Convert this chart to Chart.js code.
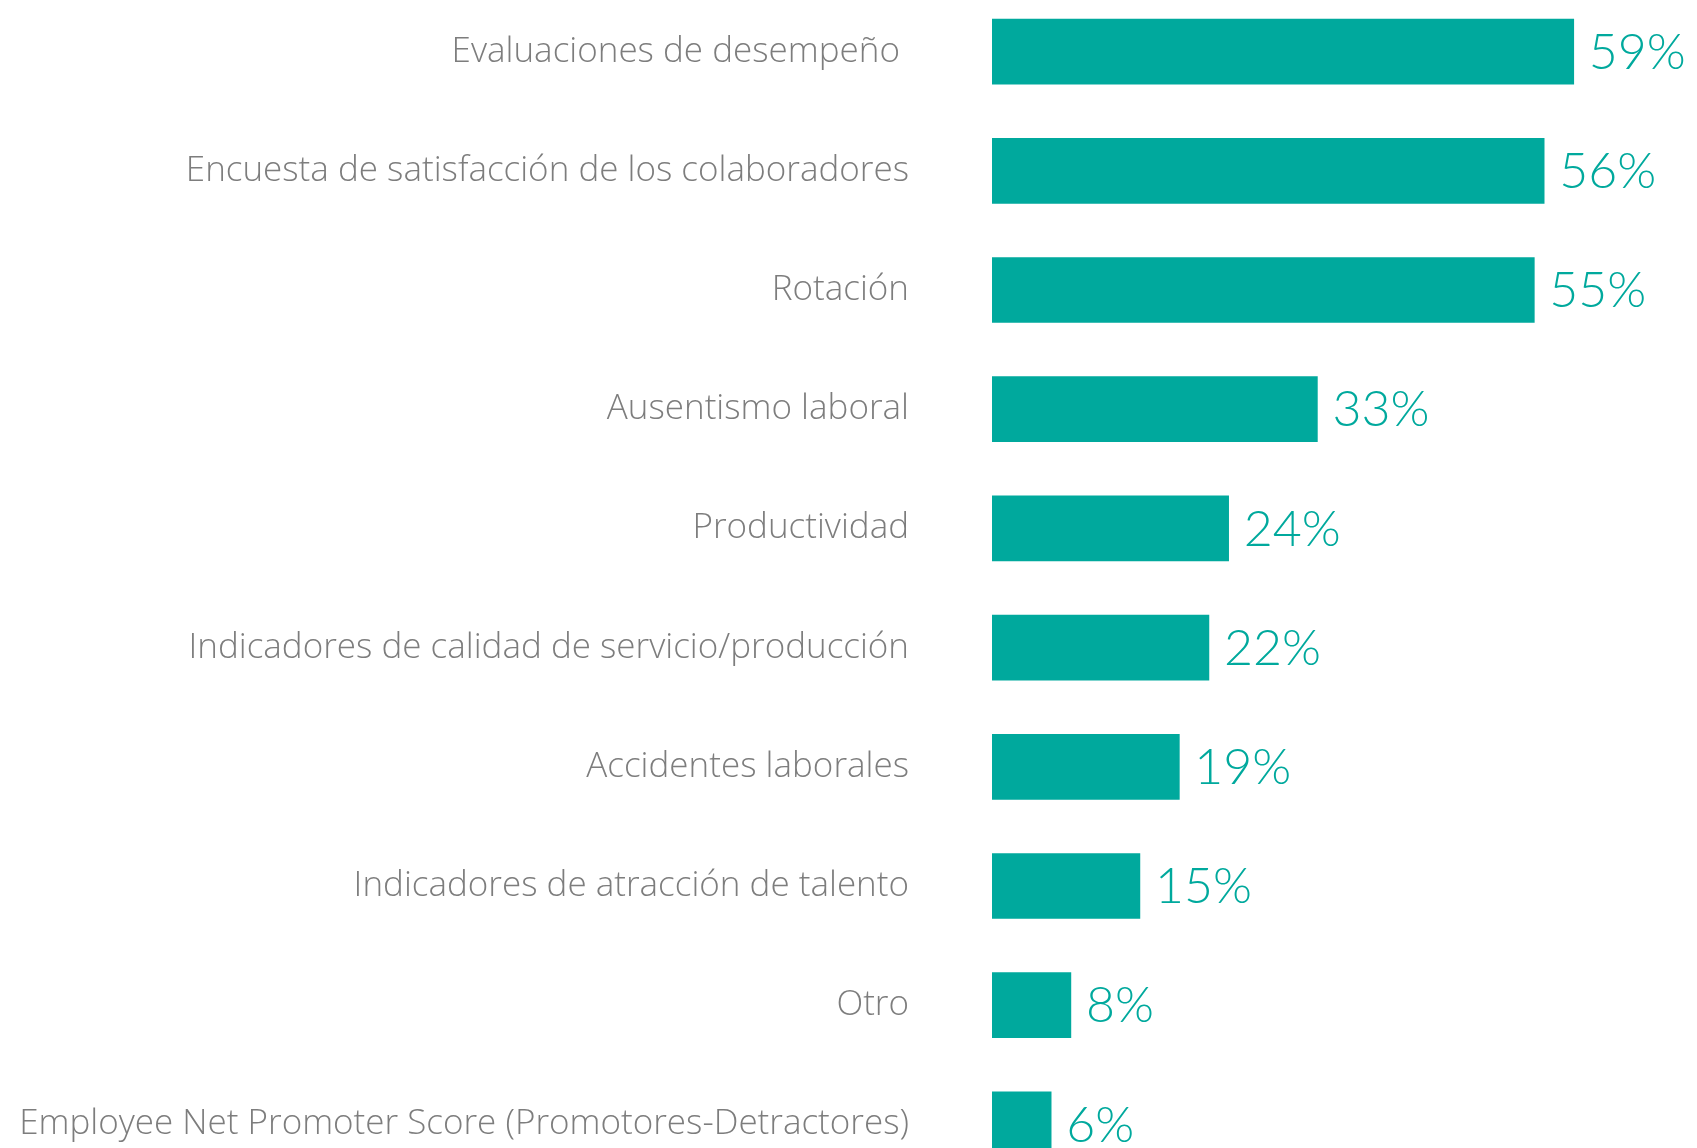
<!DOCTYPE html>
<html>
<head>
<meta charset="utf-8">
<script src="https://cdn.jsdelivr.net/npm/chart.js@4/dist/chart.umd.min.js"></script>
<style>
	html, body { margin: 0; padding: 0; background: #fff; overflow: hidden; }
	#wrap { position: absolute; left: 0; top: -8px; width: 1697px; height: 1192px; }
</style>
</head>
<body>
<div id="wrap"><canvas id="chart"></canvas></div>
<script>
const categories = [
	'Evaluaciones de desempeño ',
	'Encuesta de satisfacción de los colaboradores',
	'Rotación',
	'Ausentismo laboral',
	'Productividad',
	'Indicadores de calidad de servicio/producción',
	'Accidentes laborales',
	'Indicadores de atracción de talento',
	'Otro',
	'Employee Net Promoter Score (Promotores-Detractores)'
];
const values = [ 59, 56, 55, 33, 24, 22, 19, 15, 8, 6 ];

const teal = '#00a99d';

// Draw the percentage next to each bar.
const valueLabels = {
	id: 'valueLabels',
	afterDatasetsDraw( chart ) {
		const ctx = chart.ctx;
		const meta = chart.getDatasetMeta( 0 );
		ctx.save();
		ctx.fillStyle = teal;
		ctx.font = '300 50px Lato, "Open Sans", sans-serif';
		ctx.textAlign = 'left';
		ctx.textBaseline = 'middle';
		meta.data.forEach( function ( bar, i ) {
			ctx.fillText( values[ i ] + '%', bar.x + 15, bar.y + 1 );
		} );
		ctx.restore();
	}
};

new Chart( 'chart', {
	type: 'bar',
	data: {
		labels: categories,
		datasets: [ {
			data: values,
			backgroundColor: teal,
			barThickness: 65
		} ]
	},
	options: {
		indexAxis: 'y',
		responsive: true,
		maintainAspectRatio: false,
		animation: false,
		layout: { padding: 0 },
		plugins: {
			legend: { display: false },
			tooltip: { enabled: false }
		},
		scales: {
			x: {
				display: false,
				min: 0,
				max: 71.5
			},
			y: {
				grid: { display: false, drawTicks: false },
				border: { display: false },
				ticks: {
					padding: 83,
					color: '#7d7d7d',
					font: { family: '"Open Sans", Lato, sans-serif', size: 35, weight: 300 }
				},
				afterFit: function ( scale ) {
					// keep the tick padding from eating vertical space
					scale.width = 992;
					scale.paddingTop = 0;
					scale.paddingBottom = 0;
				}
			}
		}
	},
	plugins: [ valueLabels ]
} );
</script>
</body>
</html>
